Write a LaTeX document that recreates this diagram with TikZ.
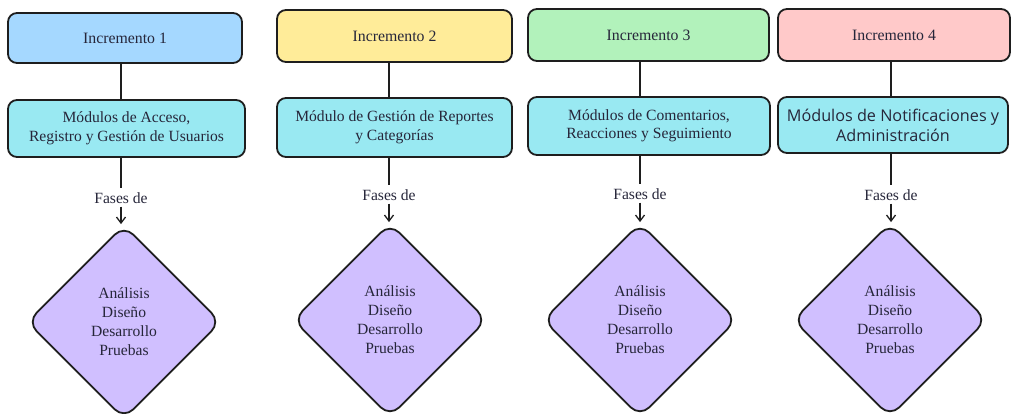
\documentclass[tikz,border=0pt]{standalone}
\usepackage{fontspec}
\setmainfont{Liberation Serif}
\newfontfamily\sansf{Open Sans}
\usetikzlibrary{shapes.geometric,arrows.meta}

\definecolor{ink}{HTML}{1E1E1E}
\definecolor{txt}{HTML}{26263A}
\definecolor{incblue}{HTML}{A5D8FF}
\definecolor{incyellow}{HTML}{FFEC99}
\definecolor{incgreen}{HTML}{B2F2BB}
\definecolor{incpink}{HTML}{FFC9C9}
\definecolor{modcyan}{HTML}{99E9F2}
\definecolor{phaseviolet}{HTML}{D0BFFF}

\tikzset{
  incbox/.style={draw=ink, line width=1.8pt, rounded corners=9pt,
    inner sep=0pt, text=txt, font=\fontsize{15.8}{18}\selectfont},
  modbox/.style={draw=ink, line width=1.8pt, rounded corners=9pt, fill=modcyan,
    inner sep=0pt, align=center, text=txt, font=\fontsize{15.6}{18.5}\selectfont},
  phase/.style={diamond, draw=ink, line width=1.8pt, rounded corners=13pt,
    fill=phaseviolet, inner sep=0pt, minimum width=194pt, minimum height=194pt,
    align=center, text=txt, font=\fontsize{15.6}{19}\selectfont},
  faseslbl/.style={text=txt, inner sep=1pt, font=\fontsize{15.6}{18}\selectfont},
  link/.style={draw=ink, line width=1.6pt},
  linkarrow/.style={link, -{Straight Barb[length=6pt,width=9pt,line width=1.3pt]}}
}

\begin{document}
\begin{tikzpicture}[x=1pt,y=1pt]
\useasboundingbox (0,0) rectangle (1011,414);

% increment headers
\node[incbox, fill=incblue,   minimum width=234pt, minimum height=50pt] (inc1) at (125,376) {Incremento 1};
\node[incbox, fill=incyellow, minimum width=235pt, minimum height=52pt] (inc2) at (394.5,378) {Incremento 2};
\node[incbox, fill=incgreen,  minimum width=241pt, minimum height=52pt] (inc3) at (648.5,379) {Incremento 3};
\node[incbox, fill=incpink,   minimum width=232pt, minimum height=52pt] (inc4) at (894,379) {Incremento 4};

% modules delivered by each increment
\node[modbox, minimum width=237pt, minimum height=57pt] (mod1) at (126.5,285.5)
  {Módulos de Acceso,\\Registro y Gestión de Usuarios};
\node[modbox, minimum width=235pt, minimum height=59pt] (mod2) at (394.5,286.5)
  {Módulo de Gestión de Reportes\\y Categorías};
\node[modbox, minimum width=242pt, minimum height=58pt] (mod3) at (649,288)
  {Módulos de Comentarios,\\Reacciones y Seguimiento};
\node[modbox, minimum width=230pt, minimum height=56pt, font=\sansf\fontsize{16.2}{20}\selectfont] (mod4) at (893,289)
  {Módulos de Notificaciones y\\Administración};

% development phases
\node[phase] (ph1) at (124,92) {Análisis\\Diseño\\Desarrollo\\Pruebas};
\node[phase] (ph2) at (390,94) {Análisis\\Diseño\\Desarrollo\\Pruebas};
\node[phase] (ph3) at (640,94) {Análisis\\Diseño\\Desarrollo\\Pruebas};
\node[phase] (ph4) at (890,94) {Análisis\\Diseño\\Desarrollo\\Pruebas};

% connector labels
\node[faseslbl] (fs1) at (121,216) {Fases de};
\node[faseslbl] (fs2) at (389,219) {Fases de};
\node[faseslbl] (fs3) at (640,220) {Fases de};
\node[faseslbl] (fs4) at (891,219) {Fases de};

% connectors
\foreach \i in {1,2,3,4}{
  \draw[link] (inc\i.south -| fs\i) -- (mod\i.north -| fs\i);
  \draw[link] (mod\i.south -| fs\i) -- ([yshift=3pt]fs\i.north);
  \draw[linkarrow] ([yshift=-2pt]fs\i.south) -- (ph\i.north -| fs\i);
}
\end{tikzpicture}
\end{document}
